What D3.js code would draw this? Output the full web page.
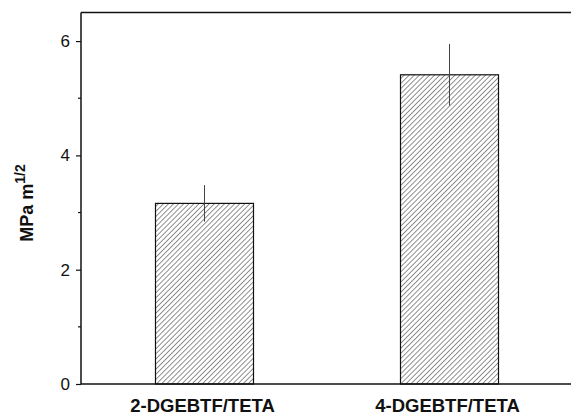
<!DOCTYPE html>
<html>
<head>
<meta charset="utf-8">
<script src="https://cdn.jsdelivr.net/npm/d3@7"></script>
<style>
  html, body { margin: 0; padding: 0; background: #fff; }
  svg { display: block; font-family: "Liberation Sans", Arial, sans-serif; }
</style>
</head>
<body>
<div id="chart"></div>
<script>
'use strict';

// values
let categories = ['2-DGEBTF/TETA', '4-DGEBTF/TETA'];
let means = [3.16, 5.41];
let errors = [0.32, 0.54];
let majorTicks = [0, 2, 4, 6];
let minorTicks = [1, 3, 5];

let width = 571, height = 416;

let svg = d3.select('#chart')
    .append('svg')
    .attr('width', width)
    .attr('height', height);

let defs = svg.append('defs');
let pat = defs.append('pattern')
    .attr('id', 'hatch')
    .attr('patternUnits', 'userSpaceOnUse')
    .attr('width', 3.6)
    .attr('height', 3.6)
    .attr('patternTransform', 'rotate(45)');
pat.append('line')
    .attr('x1', 0).attr('y1', 0)
    .attr('x2', 0).attr('y2', 3.6)
    .attr('stroke', '#222')
    .attr('stroke-width', 1);

let x = d3.scaleBand()
    .domain(categories)
    .range([82, 572])
    .paddingInner(0.6)
    .paddingOuter(0.3);

let y = d3.scaleLinear()
    .domain([0, 6.5])
    .range([384, 12.5]);

let data = categories.map(function (c, i) {
    return { cat: c, mean: means[i], err: errors[i] };
});

// bars
svg.append('g')
    .selectAll('rect')
    .data(data)
    .enter()
    .append('rect')
    .attr('x', function (d) { return x(d.cat); })
    .attr('y', function (d) { return y(d.mean); })
    .attr('width', x.bandwidth())
    .attr('height', function (d) { return y(0) - y(d.mean); })
    .attr('fill', 'url(#hatch)')
    .attr('stroke', '#111')
    .attr('stroke-width', 1.2);

// error bars (no caps)
svg.append('g')
    .selectAll('line')
    .data(data)
    .enter()
    .append('line')
    .attr('x1', function (d) { return x(d.cat) + x.bandwidth() / 2; })
    .attr('x2', function (d) { return x(d.cat) + x.bandwidth() / 2; })
    .attr('y1', function (d) { return y(d.mean + d.err); })
    .attr('y2', function (d) { return y(d.mean - d.err); })
    .attr('stroke', '#444')
    .attr('stroke-width', 1);

// y axis
let yAxis = svg.append('g')
    .attr('transform', 'translate(81,0)')
    .call(d3.axisLeft(y).tickValues(majorTicks).tickFormat(d3.format('d'))
        .tickSize(5).tickPadding(6).tickSizeOuter(0));
yAxis.select('.domain').remove();
yAxis.selectAll('line').attr('stroke', '#111').attr('stroke-width', 1.2);
yAxis.selectAll('text')
    .attr('fill', '#111')
    .style('font-size', '17px');

svg.append('g')
    .attr('transform', 'translate(81,0)')
    .selectAll('line')
    .data(minorTicks)
    .enter()
    .append('line')
    .attr('x1', -3)
    .attr('x2', 0)
    .attr('y1', function (d) { return y(d); })
    .attr('y2', function (d) { return y(d); })
    .attr('stroke', '#111')
    .attr('stroke-width', 1.2);

// frame: left, top, bottom
let frame = svg.append('g')
    .attr('stroke', '#111')
    .attr('stroke-width', 1.5)
    .attr('fill', 'none');
frame.append('line')
    .attr('x1', 81).attr('x2', 81)
    .attr('y1', y.range()[1]).attr('y2', y(0));
frame.append('line')
    .attr('x1', 81).attr('x2', width)
    .attr('y1', y.range()[1]).attr('y2', y.range()[1]);
frame.append('line')
    .attr('x1', 81).attr('x2', width)
    .attr('y1', y(0)).attr('y2', y(0));

// category labels
svg.append('g')
    .selectAll('text')
    .data(categories)
    .enter()
    .append('text')
    .attr('x', function (d) { return x(d) + x.bandwidth() / 2 - 2; })
    .attr('y', 412)
    .attr('text-anchor', 'middle')
    .style('font-size', '18.5px')
    .style('font-weight', 'bold')
    .attr('fill', '#111')
    .text(function (d) { return d; });

// y label
let ylab = svg.append('text')
    .attr('transform', 'translate(33,203) rotate(-90)')
    .attr('text-anchor', 'middle')
    .style('font-size', '18px')
    .style('font-weight', 'bold')
    .attr('fill', '#111');
ylab.append('tspan').text('MPa m');
ylab.append('tspan')
    .attr('dy', -8)
    .style('font-size', '14px')
    .text('1/2');
</script>
</body>
</html>
